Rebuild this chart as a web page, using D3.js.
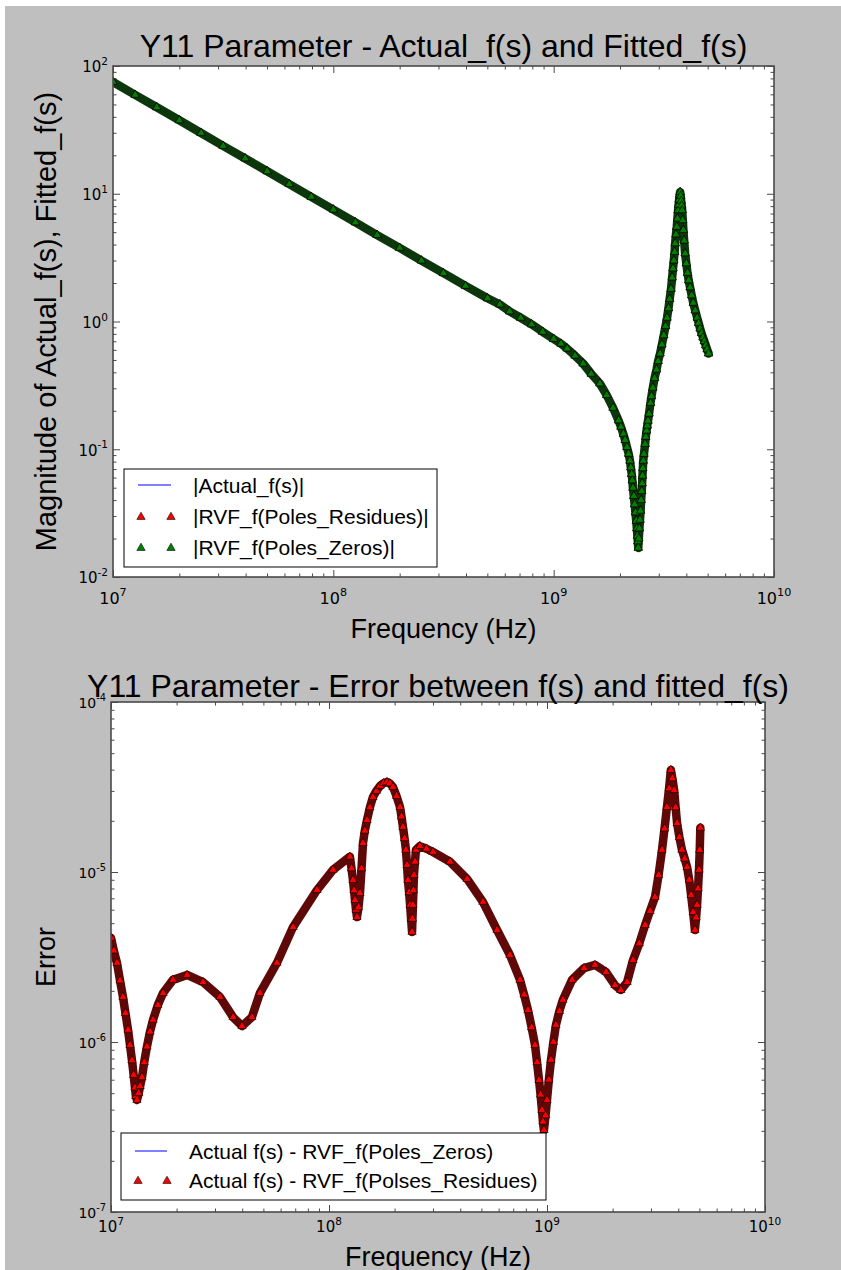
<!DOCTYPE html>
<html>
<head>
<meta charset="utf-8">
<script src="https://cdn.jsdelivr.net/npm/d3@7"></script>
<style>
  body { margin: 0; background: #bfbfbf; }
  svg { display: block; }
</style>
</head>
<body>
<svg id="fig" width="841" height="1270"></svg>
<script>
// ---- Y11 magnitude: frequency (Hz) and |f(s)| ----
const magFreq = [
  1.00e7, 1.26e7, 1.58e7, 2.00e7, 2.51e7, 3.16e7, 3.98e7, 5.01e7, 6.31e7, 7.94e7,
  1.00e8, 1.26e8, 1.58e8, 2.00e8, 2.51e8, 3.16e8, 3.98e8, 5.01e8, 5.70e8, 6.31e8,
  7.08e8, 7.94e8, 8.91e8, 1.00e9, 1.08e9, 1.15e9, 1.25e9, 1.36e9, 1.48e9, 1.62e9,
  1.74e9, 1.86e9, 1.97e9, 2.02e9, 2.07e9, 2.11e9, 2.15e9, 2.19e9, 2.22e9, 2.24e9,
  2.26e9, 2.275e9, 2.29e9, 2.31e9, 2.33e9, 2.35e9, 2.37e9, 2.385e9, 2.40e9, 2.41e9,
  2.42e9, 2.435e9, 2.45e9, 2.465e9, 2.48e9, 2.495e9, 2.51e9, 2.52e9, 2.53e9, 2.54e9,
  2.55e9, 2.57e9, 2.60e9, 2.62e9, 2.64e9, 2.66e9, 2.68e9, 2.71e9, 2.75e9, 2.78e9,
  2.82e9, 2.87e9, 2.93e9, 2.98e9, 3.04e9, 3.10e9, 3.16e9, 3.22e9, 3.27e9, 3.32e9,
  3.36e9, 3.41e9, 3.45e9, 3.48e9, 3.51e9, 3.54e9, 3.56e9, 3.59e9, 3.62e9, 3.645e9,
  3.67e9, 3.69e9, 3.71e9, 3.73e9, 3.75e9, 3.77e9, 3.79e9, 3.81e9, 3.83e9, 3.855e9,
  3.88e9, 3.91e9, 3.95e9, 4.00e9, 4.05e9, 4.10e9, 4.16e9, 4.23e9, 4.30e9, 4.39e9,
  4.48e9, 4.55e9, 4.62e9, 4.69e9, 4.76e9, 4.83e9, 4.90e9, 4.97e9, 5.05e9
];
const magValue = [
  75.0, 59.5, 47.5, 37.6, 29.9, 23.7, 18.9, 15.0, 11.9, 9.45,
  7.52, 5.97, 4.75, 3.77, 3.00, 2.39, 1.90, 1.52, 1.36, 1.20,
  1.07, 0.95, 0.83, 0.73, 0.67, 0.614, 0.54, 0.469, 0.39, 0.327,
  0.265, 0.211, 0.168, 0.150, 0.132, 0.118, 0.104, 0.092, 0.0813, 0.072,
  0.064, 0.057, 0.0499, 0.043, 0.037, 0.032, 0.0275, 0.024, 0.021, 0.019,
  0.0169, 0.020, 0.024, 0.028, 0.033, 0.040, 0.047, 0.054, 0.062, 0.071,
  0.0813, 0.092, 0.11, 0.125, 0.14, 0.153, 0.167, 0.19, 0.23, 0.26,
  0.303, 0.36, 0.42, 0.49, 0.561, 0.66, 0.78, 0.92, 1.07, 1.27,
  1.5, 1.8, 2.21, 2.6, 3.0, 3.5, 4.09, 4.8, 5.5, 6.4,
  7.43, 8.2, 9.0, 9.8, 10.3, 9.6, 8.8, 8.1, 7.43, 6.2,
  5.2, 4.3, 3.41, 2.85, 2.4, 2.1, 1.85, 1.6, 1.4, 1.22,
  1.07, 0.97, 0.88, 0.81, 0.749, 0.70, 0.65, 0.605, 0.561
];

// ---- Fitting error: frequency (Hz) and |error| ----
const errFreq = [
  1.000e7, 1.030e7, 1.065e7, 1.100e7, 1.135e7, 1.165e7, 1.197e7, 1.222e7, 1.248e7, 1.270e7,
  1.288e7, 1.300e7, 1.316e7, 1.340e7, 1.360e7, 1.387e7, 1.420e7, 1.462e7, 1.510e7, 1.559e7,
  1.640e7, 1.733e7, 1.924e7, 2.233e7, 2.643e7, 3.162e7, 3.630e7, 3.990e7, 4.430e7, 4.820e7,
  5.770e7, 6.840e7, 8.810e7, 1.043e8, 1.247e8, 1.268e8, 1.288e8, 1.302e8, 1.316e8, 1.330e8,
  1.344e8, 1.365e8, 1.387e8, 1.410e8, 1.432e8, 1.460e8, 1.494e8, 1.540e8, 1.591e8, 1.650e8,
  1.714e8, 1.780e8, 1.845e8, 1.900e8, 1.966e8, 2.040e8, 2.117e8, 2.150e8, 2.184e8, 2.220e8,
  2.254e8, 2.280e8, 2.302e8, 2.330e8, 2.355e8, 2.380e8, 2.404e8, 2.415e8, 2.427e8, 2.440e8,
  2.453e8, 2.480e8, 2.506e8, 2.612e8, 2.800e8, 3.000e8, 3.590e8, 4.300e8, 5.080e8, 5.900e8,
  6.760e8, 7.520e8, 7.850e8, 8.180e8, 8.500e8, 8.810e8, 9.000e8, 9.190e8, 9.340e8, 9.480e8,
  9.580e8, 9.680e8, 9.850e8, 1.000e9, 1.020e9, 1.043e9, 1.070e9, 1.099e9, 1.140e9, 1.183e9,
  1.303e9, 1.479e9, 1.660e9, 1.866e9, 2.050e9, 2.180e9, 2.330e9, 2.480e9, 2.650e9, 2.820e9,
  2.970e9, 3.130e9, 3.250e9, 3.370e9, 3.460e9, 3.550e9, 3.630e9, 3.700e9, 3.760e9, 3.830e9,
  3.890e9, 3.950e9, 4.050e9, 4.160e9, 4.280e9, 4.390e9, 4.490e9, 4.580e9, 4.680e9, 4.770e9,
  4.830e9, 4.880e9, 4.930e9, 4.980e9, 5.020e9, 5.050e9
];
const errValue = [
  4.1e-6, 3.45e-6, 2.92e-6, 2.3e-6, 1.84e-6, 1.48e-6, 1.18e-6, 9.6e-7, 7.8e-7, 6.4e-7,
  5.4e-7, 4.8e-7, 4.56e-7, 5.0e-7, 5.5e-7, 6.2e-7, 7.6e-7, 9.4e-7, 1.15e-6, 1.35e-6,
  1.65e-6, 1.94e-6, 2.32e-6, 2.48e-6, 2.25e-6, 1.84e-6, 1.40e-6, 1.24e-6, 1.40e-6, 1.94e-6,
  2.92e-6, 4.74e-6, 7.83e-6, 1.03e-5, 1.23e-5, 1.05e-5, 8.97e-6, 7.8e-6, 6.84e-6, 6.0e-6,
  5.43e-6, 6.2e-6, 7.52e-6, 1.05e-5, 1.48e-5, 1.75e-5, 2.02e-5, 2.4e-5, 2.76e-5, 3.0e-5,
  3.21e-5, 3.33e-5, 3.38e-5, 3.32e-5, 3.16e-5, 2.8e-5, 2.41e-5, 2.12e-5, 1.84e-5, 1.58e-5,
  1.35e-5, 1.1e-5, 8.97e-6, 7.6e-6, 6.40e-6, 5.3e-6, 4.44e-6, 5.3e-6, 6.40e-6, 7.8e-6,
  9.6e-6, 1.15e-5, 1.35e-5, 1.42e-5, 1.37e-5, 1.31e-5, 1.15e-5, 9.1e-6, 6.67e-6, 4.56e-6,
  3.25e-6, 2.32e-6, 1.9e-6, 1.54e-6, 1.22e-6, 9.6e-7, 7.6e-7, 5.97e-7, 4.9e-7, 3.98e-7,
  3.4e-7, 3.03e-7, 3.7e-7, 4.56e-7, 6.0e-7, 7.84e-7, 1.0e-6, 1.26e-6, 1.52e-6, 1.77e-6,
  2.32e-6, 2.72e-6, 2.84e-6, 2.58e-6, 2.16e-6, 2.02e-6, 2.25e-6, 3.03e-6, 3.8e-6, 4.88e-6,
  5.9e-6, 7.13e-6, 9.6e-6, 1.35e-5, 1.8e-5, 2.41e-5, 3.1e-5, 3.98e-5, 3.55e-5, 3.03e-5,
  2.4e-5, 1.94e-5, 1.6e-5, 1.35e-5, 1.2e-5, 1.07e-5, 9.0e-6, 7.32e-6, 5.8e-6, 4.56e-6,
  5.4e-6, 6.40e-6, 8.0e-6, 1.03e-5, 1.35e-5, 1.82e-5
];

// ---- Axis ticks (powers of ten) and text ----
const freqTickExp = [7, 8, 9, 10];
const magTickExp = [-2, -1, 0, 1, 2];
const errTickExp = [-7, -6, -5, -4];
const magLegend = ["|Actual_f(s)|", "|RVF_f(Poles_Residues)|", "|RVF_f(Poles_Zeros)|"];
const errLegend = ["Actual f(s) - RVF_f(Poles_Zeros)", "Actual f(s) - RVF_f(Polses_Residues)"];
const titles = ["Y11 Parameter - Actual_f(s) and Fitted_f(s)", "Y11 Parameter - Error between f(s) and fitted_f(s)"];
const yLabels = ["Magnitude of Actual_f(s), Fitted_f(s)", "Error"];
const xLabel = "Frequency (Hz)";

const SANS = "'Liberation Sans', Arial, Helvetica, sans-serif";
const TICKFONT = "'DejaVu Sans', sans-serif";
const W = 841, H = 1270;
const svg = d3.select("#fig");

svg.append("rect").attr("width", W).attr("height", H).attr("fill", "#bfbfbf");
svg.append("rect").attr("width", W).attr("height", 6).attr("fill", "#ffffff");
svg.append("rect").attr("width", 5).attr("height", H).attr("fill", "#ffffff");

const tri = d3.symbol().type(d3.symbolTriangle).size(30);

function decadeMinors(e0, e1) {
  const out = [];
  for (let e = e0; e < e1; e++) for (let k = 2; k <= 9; k++) out.push(k * Math.pow(10, e));
  return out;
}

function powText(sel, exp, fs) {
  sel.append("tspan").text("10");
  sel.append("tspan").attr("dy", -fs * 0.48).attr("font-size", fs * 0.7)
    .text(exp < 0 ? "-" + (-exp) : String(exp));
}

function panel(cfg) {
  const g = svg.append("g");
  const x = d3.scaleLog().domain([1e7, 1e10]).range([cfg.left, cfg.right]);
  const y = d3.scaleLog().domain(cfg.yDomain).range([cfg.bottom, cfg.top]);
  const pw = cfg.right - cfg.left, ph = cfg.bottom - cfg.top;

  g.append("rect").attr("x", cfg.left).attr("y", cfg.top).attr("width", pw).attr("height", ph)
    .attr("fill", "#ffffff");

  const clipId = "clip" + cfg.id;
  g.append("clipPath").attr("id", clipId).append("rect")
    .attr("x", cfg.left).attr("y", cfg.top).attr("width", pw).attr("height", ph);

  // ticks on all four sides, pointing inward
  const xMaj = freqTickExp.map(e => Math.pow(10, e));
  const xMin = decadeMinors(7, 10);
  const yMaj = cfg.yTickExp.map(e => Math.pow(10, e));
  const yMin = decadeMinors(cfg.yTickExp[0], cfg.yTickExp[cfg.yTickExp.length - 1]);
  const axes = [
    [d3.axisBottom(x), `translate(0,${cfg.bottom})`, xMaj, xMin],
    [d3.axisTop(x), `translate(0,${cfg.top})`, xMaj, xMin],
    [d3.axisLeft(y), `translate(${cfg.left},0)`, yMaj, yMin],
    [d3.axisRight(y), `translate(${cfg.right},0)`, yMaj, yMin]
  ];
  axes.forEach(([ax, tr, maj, min]) => {
    [[maj, 7], [min, 3.5]].forEach(([vals, len]) => {
      const a = g.append("g").attr("transform", tr)
        .call(ax.tickValues(vals).tickSize(-len).tickFormat(""));
      a.select(".domain").remove();
      a.selectAll("line").attr("stroke", "#4a4a4a").attr("stroke-width", 1);
    });
  });

  // data: blue reference line, the dense marker trail over it, then the triangles
  const data = cfg.freq.map((f, i) => [f, cfg.values[i]]);
  const line = d3.line().x(d => x(d[0])).y(d => y(d[1]));
  const plot = g.append("g").attr("clip-path", `url(#${clipId})`);
  plot.append("path").datum(data).attr("d", line).attr("fill", "none")
    .attr("stroke", "#0000ff").attr("stroke-width", 1);
  plot.append("path").datum(data).attr("d", line).attr("fill", "none")
    .attr("stroke", cfg.bandColor).attr("stroke-width", 8.5)
    .attr("stroke-linejoin", "round").attr("stroke-linecap", "round");
  cfg.markerFills.forEach(fill => {
    plot.append("g").selectAll("path").data(data).join("path")
      .attr("d", tri)
      .attr("transform", d => `translate(${x(d[0])},${y(d[1])})`)
      .attr("fill", fill).attr("stroke", "#000").attr("stroke-width", 0.6);
  });

  // frame
  g.append("rect").attr("x", cfg.left).attr("y", cfg.top).attr("width", pw).attr("height", ph)
    .attr("fill", "none").attr("stroke", "#4a4a4a").attr("stroke-width", 1.6);

  // tick labels
  freqTickExp.forEach(e => {
    g.append("text").attr("x", x(Math.pow(10, e))).attr("y", cfg.bottom + cfg.xLabelDy)
      .attr("text-anchor", "middle").attr("font-family", TICKFONT).attr("font-size", cfg.xTickFs)
      .attr("fill", "#000").call(powText, e, cfg.xTickFs);
  });
  cfg.yTickExp.forEach(e => {
    g.append("text").attr("x", cfg.left - 5).attr("y", y(Math.pow(10, e)) + cfg.yTickFs * 0.42)
      .attr("text-anchor", "end").attr("font-family", TICKFONT).attr("font-size", cfg.yTickFs)
      .attr("fill", "#000").call(powText, e, cfg.yTickFs);
  });

  // title and axis labels
  const cx = (cfg.left + cfg.right) / 2;
  g.append("text").attr("x", cx).attr("y", cfg.titleY).attr("text-anchor", "middle")
    .attr("font-family", SANS).attr("font-size", 32).attr("fill", "#000").text(cfg.title);
  g.append("text").attr("x", cx).attr("y", cfg.xLabelY).attr("text-anchor", "middle")
    .attr("font-family", SANS).attr("font-size", 27).attr("fill", "#000").text(xLabel);
  g.append("text").attr("transform", `translate(${cfg.yLabelX},${(cfg.top + cfg.bottom) / 2}) rotate(-90)`)
    .attr("text-anchor", "middle").attr("font-family", SANS).attr("font-size", cfg.yLabelFs)
    .attr("fill", "#000").text(cfg.yLabel);

  // legend
  const L = cfg.legend;
  g.append("rect").attr("x", L.x).attr("y", L.y).attr("width", L.w).attr("height", L.h)
    .attr("fill", "#ffffff").attr("stroke", "#000").attr("stroke-width", 1);
  L.entries.forEach((ent, i) => {
    const ry = L.y + L.first + i * L.step;
    if (ent.kind === "line") {
      g.append("line").attr("x1", L.x + L.sx0).attr("x2", L.x + L.sx1).attr("y1", ry).attr("y2", ry)
        .attr("stroke", "#0000ff").attr("stroke-width", 1);
    } else {
      [L.sx0 + 3, L.sx1].forEach(dx => {
        g.append("path").attr("d", tri).attr("transform", `translate(${L.x + dx},${ry + 1})`)
          .attr("fill", ent.fill).attr("stroke", "#000").attr("stroke-width", 0.6);
      });
    }
    g.append("text").attr("x", L.x + L.tx).attr("y", ry + 8).attr("font-family", SANS)
      .attr("font-size", 21).attr("fill", "#000").text(ent.label);
  });
  return { x, y };
}

panel({
  id: "mag", left: 113, right: 774, top: 66, bottom: 577,
  yDomain: [1e-2, 1e2], yTickExp: magTickExp,
  freq: magFreq, values: magValue,
  bandColor: "#0c360c", markerFills: ["#ff0000", "#008000"],
  xTickFs: 16, yTickFs: 15, xLabelDy: 27,
  title: titles[0], titleY: 57, xLabelY: 638, yLabel: yLabels[0], yLabelX: 56, yLabelFs: 29,
  legend: {
    x: 124, y: 469, w: 313, h: 98, first: 16, step: 31, sx0: 14, sx1: 47, tx: 69,
    entries: [
      { kind: "line", label: magLegend[0] },
      { kind: "marker", fill: "#ff0000", label: magLegend[1] },
      { kind: "marker", fill: "#008000", label: magLegend[2] }
    ]
  }
});

panel({
  id: "err", left: 111, right: 765, top: 702, bottom: 1212,
  yDomain: [1e-7, 1e-4], yTickExp: errTickExp,
  freq: errFreq, values: errValue,
  bandColor: "#5e0808", markerFills: ["#ff0000"],
  xTickFs: 15, yTickFs: 14, xLabelDy: 20,
  title: titles[1], titleY: 697, xLabelY: 1266, yLabel: yLabels[1], yLabelX: 55, yLabelFs: 27,
  legend: {
    x: 121, y: 1133, w: 425, h: 67, first: 18, step: 29, sx0: 14, sx1: 46, tx: 68,
    entries: [
      { kind: "line", label: errLegend[0] },
      { kind: "marker", fill: "#ff0000", label: errLegend[1] }
    ]
  }
});
</script>
</body>
</html>
